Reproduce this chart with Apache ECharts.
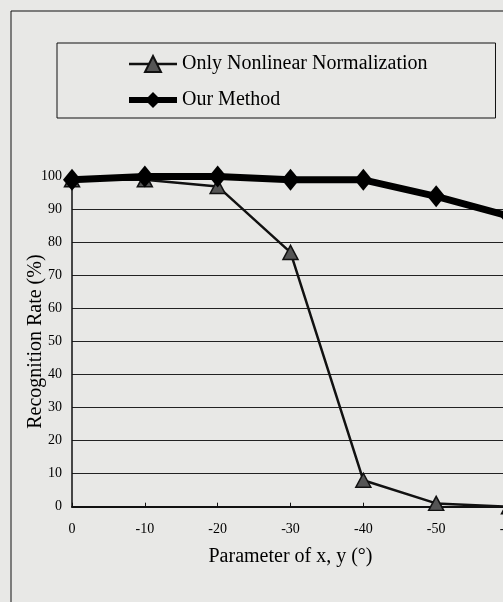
<!DOCTYPE html>
<html>
<head>
<meta charset="utf-8">
<script src="https://cdn.jsdelivr.net/npm/echarts@6/dist/echarts.min.js"></script>
<style>
html,body{margin:0;padding:0;overflow:hidden;background:#e8e8e6;}
#chart{width:560px;height:602px;}
</style>
</head>
<body>
<div id="chart"></div>
<script>
const xValues = [0, -10, -20, -30, -40, -50, -60];
const nonlinearValues = [99, 99, 97, 77, 8, 1, 0];
const ourMethodValues = [99, 100, 100, 99, 99, 94, 88];
const seriesNames = ['Only Nonlinear Normalization', 'Our Method'];
const xTitle = 'Parameter of x, y (°)';
const yTitle = 'Recognition Rate (%)';

const font = '"Liberation Serif", "DejaVu Serif", serif';
const chart = echarts.init(document.getElementById('chart'), null, {renderer: 'canvas'});

const gridColors = [];
for (let i = 0; i < 11; i++) gridColors.push('#222');

chart.setOption({
  animation: false,
  backgroundColor: '#e8e8e6',
  textStyle: {fontFamily: font},
  graphic: [{
    type: 'polyline',
    shape: {points: [[11, 700], [11, 11], [700, 11]]},
    style: {stroke: '#111', lineWidth: 1, fill: null},
    silent: true
  }],
  legend: {
    left: 57, top: 43, orient: 'vertical',
    borderColor: '#111', borderWidth: 1,
    padding: [11, 68, 8, 69],
    itemGap: 16, itemWidth: 48, itemHeight: 20,
    textStyle: {fontFamily: font, fontSize: 20, color: '#000'},
    data: [
      {name: seriesNames[0], lineStyle: {width: 2.5, color: '#111'}},
      {name: seriesNames[1], lineStyle: {width: 6, color: '#000'}}
    ]
  },
  grid: {left: 72, right: 51, top: 176.5, bottom: 95.3, containLabel: false},
  xAxis: {
    type: 'value', inverse: true, min: -60, max: 0, interval: 10,
    name: xTitle, nameLocation: 'middle', nameGap: 40, nameMoveOverlap: false,
    nameTextStyle: {fontFamily: font, fontSize: 20, color: '#000'},
    axisLine: {show: true, onZero: false, lineStyle: {color: '#111', width: 2}},
    axisTick: {show: true, inside: true, length: 4, lineStyle: {color: '#111', width: 1}},
    axisLabel: {fontFamily: font, fontSize: 14, color: '#000', margin: 16},
    splitLine: {show: false}
  },
  yAxis: {
    type: 'value', min: 0, max: 100, interval: 10,
    name: yTitle, nameLocation: 'middle', nameGap: 26, nameMoveOverlap: false,
    nameTextStyle: {fontFamily: font, fontSize: 20, color: '#000'},
    axisLine: {show: true, lineStyle: {color: '#111', width: 1.5}},
    axisTick: {show: false},
    axisLabel: {fontFamily: font, fontSize: 14, color: '#000', margin: 10},
    splitLine: {show: true, showMaxLine: false, lineStyle: {color: gridColors, width: 1.2}}
  },
  series: [
    {
      name: seriesNames[0], type: 'line', z: 2,
      data: xValues.map((x, i) => [x, nonlinearValues[i]]),
      symbol: 'triangle', symbolSize: [15, 14],
      lineStyle: {color: '#111', width: 2.5},
      itemStyle: {color: '#555', borderColor: '#111', borderWidth: 1.5}
    },
    {
      name: seriesNames[1], type: 'line', z: 3,
      data: xValues.map((x, i) => [x, ourMethodValues[i]]),
      symbol: 'diamond', symbolSize: [18, 22],
      lineStyle: {color: '#000', width: 7},
      itemStyle: {color: '#000', borderColor: '#000', borderWidth: 0}
    }
  ]
});
</script>
</body>
</html>
